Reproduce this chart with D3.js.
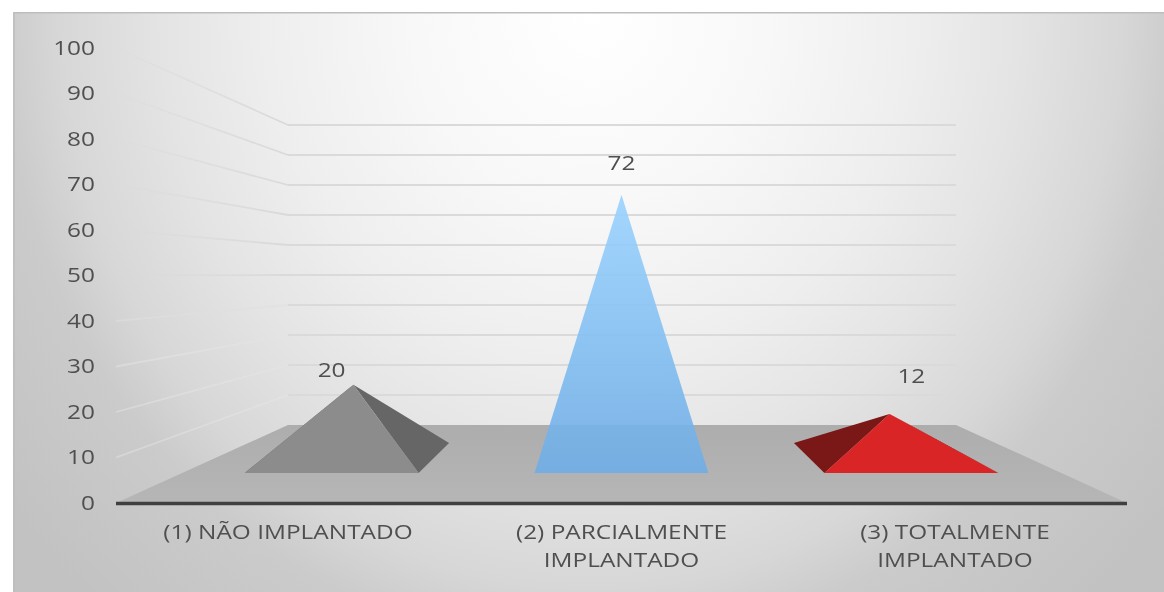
<!DOCTYPE html>
<html><head><meta charset="utf-8">
<script src="https://cdn.jsdelivr.net/npm/d3@7/dist/d3.min.js"></script>
<style>
html,body{margin:0;padding:0;background:#fff}
svg{display:block}
text{font-family:"Open Sans",sans-serif;font-size:20px;fill:#505050;filter:url(#soft)}
</style></head><body>
<svg id="c" width="1164" height="592"></svg>
<script>
const categories = ["(1) NÃO IMPLANTADO", "(2) PARCIALMENTE IMPLANTADO", "(3) TOTALMENTE IMPLANTADO"];
const categoryLines = [["(1) NÃO IMPLANTADO"], ["(2) PARCIALMENTE", "IMPLANTADO"], ["(3) TOTALMENTE", "IMPLANTADO"]];
const values = [20, 72, 12];
const axisTicks = [0,10,20,30,40,50,60,70,80,90,100];

// styles
const faceColors = ["#8c8c8c", "url(#blue)", "#d92525"];
const sideColors = ["#666666", "none", "#7a1717"];
const labelRise = [15, 32, 38];
const textStretch = 1.22;

// projection of the 3-D box
const W = 1164, H = 592;
const frontL = 116, frontR = 1127, backL = 288, backR = 956;
const frontY = d3.scaleLinear().domain([0,100]).range([503,48]);
const backY  = d3.scaleLinear().domain([0,100]).range([425,125]);
const band = d3.scaleBand().domain(categories).range([frontL,frontR]).paddingOuter(0.016).paddingInner(0);
const cx = (frontL+frontR)/2;
const sc = d3.scaleLinear().domain([0,1]).range([1,(backR-backL)/(frontR-frontL)]);
function P(x,t,v){
  const y0 = d3.interpolateNumber(frontY(v),backY(v))(t);
  return [cx+(x-cx)*sc(t), y0];
}
function stretch(sel){
  sel.each(function(){
    const n = this.getComputedTextLength();
    d3.select(this).attr("textLength",n*textStretch).attr("lengthAdjust","spacingAndGlyphs");
  });
}

const svg = d3.select("#c");
const defs = svg.append("defs");
const soft = defs.append("filter").attr("id","soft").attr("x","-5%").attr("y","-20%").attr("width","110%").attr("height","140%");
soft.append("feGaussianBlur").attr("stdDeviation",0.4);
const softLine = defs.append("filter").attr("id","softLine").attr("filterUnits","userSpaceOnUse")
  .attr("x",0).attr("y",0).attr("width",W).attr("height",H);
softLine.append("feGaussianBlur").attr("stdDeviation",0.4);

const bg = defs.append("radialGradient").attr("id","bg").attr("gradientUnits","userSpaceOnUse")
  .attr("cx",0).attr("cy",0).attr("r",1)
  .attr("gradientTransform","translate(590,12) scale(738,800)");
[[0,"#ffffff"],[0.24,"#f8f8f8"],[0.44,"#eeeeee"],[0.58,"#e4e4e4"],[0.72,"#d7d7d7"],[0.8,"#cbcbcb"],[1,"#c2c2c2"]]
  .forEach(([o,c])=>bg.append("stop").attr("offset",o).attr("stop-color",c));

const blue = defs.append("linearGradient").attr("id","blue").attr("x1",0).attr("y1",0).attr("x2",0).attr("y2",1);
[[0,"#9ad3ff"],[1,"#6fade6"]].forEach(([o,c])=>blue.append("stop").attr("offset",o).attr("stop-color",c));

const wall = defs.append("linearGradient").attr("id","wall").attr("gradientUnits","userSpaceOnUse")
  .attr("x1",frontL).attr("y1",0).attr("x2",backL).attr("y2",0);
[[0,"#d9d9d9",0.15],[1,"#d9d9d9",1]].forEach(([o,c,a])=>wall.append("stop").attr("offset",o).attr("stop-color",c).attr("stop-opacity",a));

const floorG = defs.append("linearGradient").attr("id","floor").attr("x1",0).attr("y1",0).attr("x2",0).attr("y2",1);
[[0,"#adadad"],[1,"#b6b6b6"]].forEach(([o,c])=>floorG.append("stop").attr("offset",o).attr("stop-color",c));

// background
svg.append("rect").attr("x",13).attr("y",12).attr("width",W-13).attr("height",H-12).attr("fill","url(#bg)");
svg.append("path").attr("d",`M14 592V12.75H${W}`).attr("fill","none").attr("stroke","#bdbdbd").attr("stroke-width",1.5);

// gridlines
const grid = axisTicks.filter(d=>d>0);
const gridG = svg.append("g").attr("filter","url(#softLine)");
gridG.append("g").selectAll("path.w").data(grid).join("path").attr("class","w")
  .attr("d",d=>`M${frontL} ${frontY(d)}L${backL} ${backY(d)}`)
  .attr("fill","none")
  .attr("stroke",d=>d<=30?"#e6e6e6":d===40?"#e0e0e0":"url(#wall)")
  .attr("stroke-opacity",d=>d<=40?0.5:1).attr("stroke-width",1.8);
gridG.append("g").selectAll("line").data(grid).join("line")
  .attr("x1",backL).attr("x2",backR).attr("y1",d=>backY(d)).attr("y2",d=>backY(d))
  .attr("stroke","#dadada").attr("stroke-width",2);

// floor
svg.append("path").attr("d",`M${frontL} ${frontY(0)}L${backL} ${backY(0)}H${backR}L${frontR} ${frontY(0)}Z`).attr("fill","url(#floor)");

// pyramids
const tFront = 0.385, tBack = 0.77, tMid = (tFront+tBack)/2;
const pyr = svg.append("g").selectAll("g").data(categories).join("g");
pyr.each(function(c,i){
  const g = d3.select(this), xc = band(c)+band.bandwidth()/2, hw = band.bandwidth()*0.3;
  const fl = P(xc-hw,tFront,0), fr = P(xc+hw,tFront,0), bl = P(xc-hw,tBack,0), br = P(xc+hw,tBack,0), a = P(xc,tMid,values[i]);
  const poly = pts => "M"+pts.map(p=>p.join(" ")).join("L")+"Z";
  g.append("path").attr("d",poly([bl,fl,a])).attr("fill",sideColors[i]);
  g.append("path").attr("d",poly([br,fr,a])).attr("fill",sideColors[i]);
  g.append("path").attr("d",poly([fl,fr,a])).attr("fill",faceColors[i]).attr("fill-opacity",i===1?0.9:1);
  g.append("text").attr("x",(fl[0]+fr[0])/2).attr("y",a[1]-labelRise[i]+7).attr("text-anchor","middle")
    .text(values[i]).call(stretch);
});

// baseline
svg.append("line").attr("x1",frontL).attr("x2",frontR).attr("y1",frontY(0)+0.5).attr("y2",frontY(0)+0.5).attr("stroke","#404040").attr("stroke-width",3.5);

// value axis
const ax = svg.append("g").attr("transform",`translate(${frontL-21},0)`)
  .call(d3.axisLeft(frontY).tickValues(axisTicks).tickSize(0).tickPadding(0));
ax.select(".domain").remove();
ax.selectAll("text").style("font-size","20px").style("font-family",'"Open Sans",sans-serif').style("fill","#505050").call(stretch);

// category labels
const lines = categoryLines.flatMap((ls,i)=>ls.map((t,j)=>({t,j,c:categories[i]})));
svg.append("g").selectAll("text").data(lines).join("text")
  .attr("text-anchor","middle")
  .attr("x",d=>band(d.c)+band.bandwidth()/2)
  .attr("y",d=>539+d.j*28)
  .text(d=>d.t).call(stretch);
</script></body></html>
